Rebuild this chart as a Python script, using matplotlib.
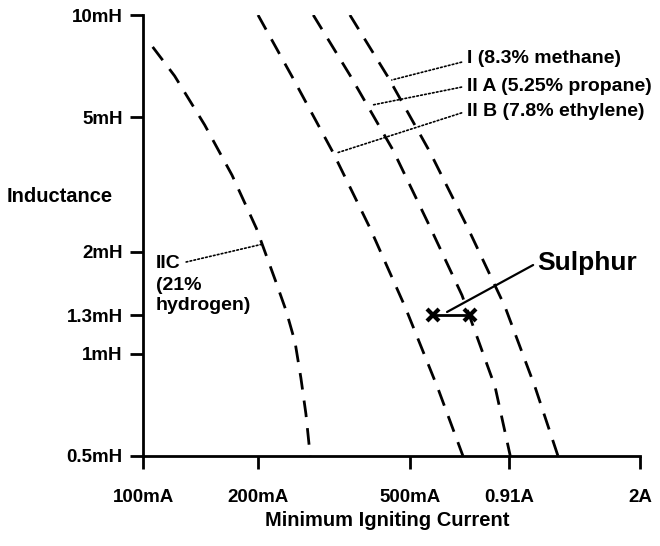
import matplotlib
matplotlib.use("Agg")
import matplotlib.pyplot as plt
from matplotlib.ticker import NullLocator, FixedLocator, FixedFormatter

plt.rcParams['font.family'] = ['Liberation Sans', 'DejaVu Sans']
plt.rcParams['font.weight'] = 'bold'

# ---- data (current in mA, inductance in mH) ----
iic_current = [106, 121, 145, 171, 198, 222, 237, 250, 259, 267, 274]
iic_induct = [8.05, 6.61, 4.74, 3.37, 2.35, 1.65, 1.34, 1.085, 0.85, 0.665, 0.50]

iib_current = [200, 246, 314, 393, 485, 592, 688]
iib_induct = [10, 6.56, 3.94, 2.35, 1.38, 0.79, 0.50]

iia_current = [279, 348, 451, 564, 684, 835, 915]
iia_induct = [10, 6.65, 4.0, 2.37, 1.49, 0.80, 0.50]

i_current = [348, 438, 564, 709, 886, 1062, 1220]
i_induct = [10, 6.56, 3.94, 2.35, 1.38, 0.80, 0.50]

sulphur_current = [574, 718]
sulphur_induct = [1.3, 1.3]

x_ticks = [100, 200, 500, 910, 2000]
x_tick_labels = ['100mA', '200mA', '500mA', '0.91A', '2A']
y_ticks = [0.5, 1, 1.3, 2, 5, 10]
y_tick_labels = ['0.5mH', '1mH', '1.3mH', '2mH', '5mH', '10mH']

# ---- figure ----
W, H = 660, 546
fig = plt.figure(figsize=(W / 100, H / 100), dpi=100)
ax = fig.add_axes([143 / W, 1 - 456 / H, 497 / W, 441 / H])
ax.set_xscale('log')
ax.set_yscale('log')
ax.set_xlim(100, 2000)
ax.set_ylim(0.5, 10)

for s in ('top', 'right'):
    ax.spines[s].set_visible(False)
for s in ('left', 'bottom'):
    ax.spines[s].set_linewidth(2.0)

ax.xaxis.set_major_locator(FixedLocator(x_ticks))
ax.xaxis.set_major_formatter(FixedFormatter(x_tick_labels))
ax.yaxis.set_major_locator(FixedLocator(y_ticks))
ax.yaxis.set_major_formatter(FixedFormatter(y_tick_labels))
ax.xaxis.set_minor_locator(NullLocator())
ax.yaxis.set_minor_locator(NullLocator())
ax.tick_params(axis='x', direction='out', length=9, width=2, pad=15, labelsize=13.5)
ax.tick_params(axis='y', direction='out', length=9.5, width=2, pad=5, labelsize=13.5)
for lab in ax.get_xticklabels() + ax.get_yticklabels():
    lab.set_fontweight('bold')

dash = dict(color='black', lw=2.0, linestyle=(0, (6, 4)), solid_capstyle='butt')
ax.plot(iic_current, iic_induct, **dash)
ax.plot(iib_current, iib_induct, **dash)
ax.plot(iia_current, iia_induct, **dash)
ax.plot(i_current, i_induct, **dash)

# sulphur points
ax.plot(sulphur_current, sulphur_induct, color='black', lw=2, marker='x',
        markersize=9, markeredgewidth=3)

dotted = dict(arrowstyle='-', linestyle=(0, (1, 1.4)), lw=1.2, color='black',
              shrinkA=2, shrinkB=0)

ax.annotate('I (8.3% methane)', xy=(448, 6.43), xycoords='data',
            xytext=(0.652, 0.902), textcoords='axes fraction',
            ha='left', va='center', fontsize=14, fontweight='bold',
            arrowprops=dict(relpos=(0, 0.35), **dotted))
ax.annotate('II A (5.25% propane)', xy=(400, 5.43), xycoords='data',
            xytext=(0.652, 0.839), textcoords='axes fraction',
            ha='left', va='center', fontsize=14, fontweight='bold',
            arrowprops=dict(relpos=(0, 0.5), **dotted))
ax.annotate('II B (7.8% ethylene)', xy=(322, 3.92), xycoords='data',
            xytext=(0.652, 0.782), textcoords='axes fraction',
            ha='left', va='center', fontsize=14, fontweight='bold',
            arrowprops=dict(relpos=(0, 0.5), **dotted))
ax.annotate('IIC', xy=(206, 2.11), xycoords='data',
            xytext=(0.026, 0.437), textcoords='axes fraction',
            ha='left', va='center', fontsize=14, fontweight='bold',
            arrowprops=dict(relpos=(1, 0.5), **dotted))
ax.text(0.026, 0.405, '(21%\nhydrogen)', transform=ax.transAxes,
        ha='left', va='top', fontsize=14, fontweight='bold', linespacing=1.2)

ax.annotate('Sulphur', xy=(625, 1.33), xycoords='data',
            xytext=(0.793, 0.438), textcoords='axes fraction',
            ha='left', va='center', fontsize=19, fontweight='bold',
            arrowprops=dict(arrowstyle='-', lw=1.6, color='black',
                            shrinkA=1, shrinkB=0, relpos=(0, 0.5)))

fig.text(7 / W, 1 - 197 / H, 'Inductance', ha='left', va='center',
         fontsize=14.5, fontweight='bold')
fig.text(387 / W, 1 - 521 / H, 'Minimum Igniting Current', ha='center',
         va='center', fontsize=14.5, fontweight='bold')

fig.savefig('out.png', dpi=100)
